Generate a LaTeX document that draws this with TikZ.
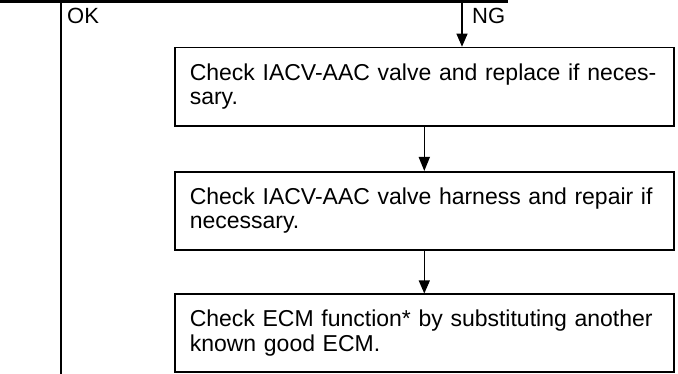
\documentclass[tikz,border=0pt]{standalone}
\usepackage{fontspec}
\setmainfont{Liberation Sans}
\usetikzlibrary{arrows.meta}
\begin{document}
\begin{tikzpicture}[x=1pt,y=-1pt,
  stepbox/.style={draw=black, line width=1.6pt, minimum width=499pt, text width=469pt,
    align=left, inner sep=0pt, anchor=north west, font=\fontsize{23}{24.5}\selectfont},
  flow/.style={line width=1.5pt, -{Triangle[length=14pt,width=11pt]}},
  thinflow/.style={line width=1.1pt, -{Triangle[length=13pt,width=11pt]}},
  lbl/.style={font=\fontsize{22}{24}\selectfont, anchor=base west, inner sep=0pt},
  bar/.style={line width=3.4pt},
  okline/.style={line width=1.4pt}]
\useasboundingbox (0,0) rectangle (678,374);
% top bar and OK branch
\coordinate (tl) at (0,1.7);
\coordinate (tr) at (508,1.7);
\draw[bar] (tl) -- (tr);
\coordinate (oktop) at (61,0);
\coordinate (okbot) at (61,374);
\draw[okline] (oktop) -- (okbot);
\node[lbl] (ok) at (67,24) {OK};
\node[lbl] (ng) at (472,24) {NG};
% boxes
\node[stepbox, minimum height=78.3pt] (b1) at (174,46.7)
  {Check IACV-AAC valve and replace if neces-\\sary.};
\node[stepbox, minimum height=78pt] (b2) at (174,171)
  {Check IACV-AAC valve harness and repair if\\necessary.};
\node[stepbox, minimum height=77.5pt] (b3) at (174,293.5)
  {Check ECM function* by substituting another\\known good ECM.};
% arrows
\coordinate (ngtop) at (462,3.4);
\draw[thinflow] (ngtop) -- (ngtop |- b1.north);
\draw[flow] (b1.south) -- (b2.north);
\draw[thinflow] (b2.south) -- (b3.north);
\end{tikzpicture}
\end{document}
